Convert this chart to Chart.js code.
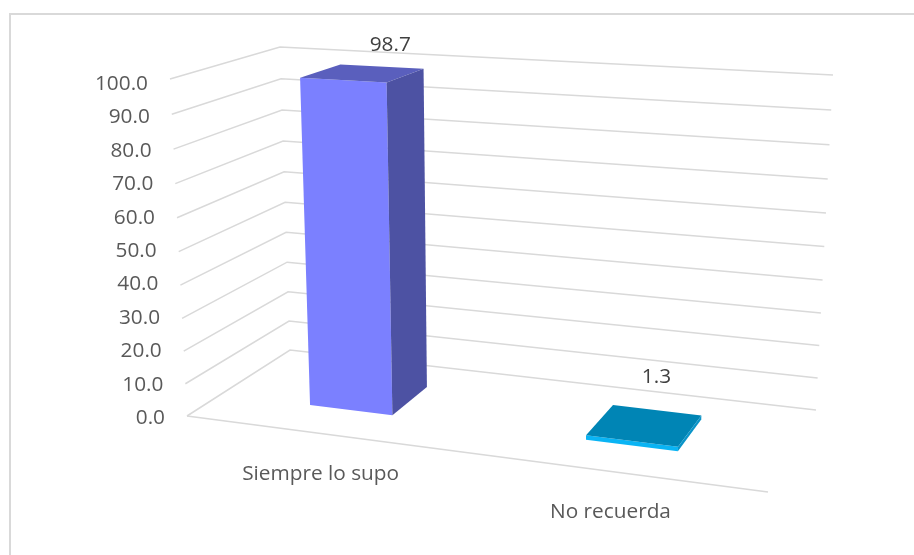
<!DOCTYPE html>
<html>
<head>
<meta charset="utf-8">
<title>Chart</title>
<script src="https://cdn.jsdelivr.net/npm/chart.js@4"></script>
<style>
  html, body { margin: 0; background: #fff; }
  canvas { display: block; }
</style>
</head>
<body>
<canvas id="myChart" width="914" height="555"></canvas>
<script>
const categories = ["Siempre lo supo", "No recuerda"];
const percentValues = [98.7, 1.3];

//face colours of each bar
const frontColors = ["#7b80ff", "#0ab4f4"];
const topColors = ["#5a5fbd", "#0085b5"];
const sideColors = ["#4d52a3", "#0a94c8"];

const FONT = '"Open Sans", sans-serif';
const GRID_COLOR = "#d9d9d9";
const TEXT_COLOR = "#595959";

//corners of the 3d box as they land on the picture
const BOX = {
  floor: { fl: [187, 416], fr: [768, 492], bl: [290, 350], br: [816, 410] },
  roof: { fl: [170, 79], fr: [781, 112], bl: [280, 47], br: [833, 75] },
};
const BAR_FRONT = 0.335; //depth where bars start
const BAR_BACK = 0.735; //depth where bars end

//foreshortening along one axis
function bend(t, k) {
  return (k * t) / (1 + (k - 1) * t);
}

function plane(c, u, w) {
  const out = [];
  for (let i = 0; i < 2; i++) {
    out.push(
      (1 - u) * (1 - w) * c.fl[i] + u * (1 - w) * c.fr[i] +
      (1 - u) * w * c.bl[i] + u * w * c.br[i]
    );
  }
  return out;
}

//flat chart pixel (x, y) + depth -> point on the 3d box
function project(chart, x, y, depth) {
  const area = chart.chartArea;
  const u = bend((x - area.left) / area.width, 0.896);
  const v = bend((area.bottom - y) / area.height, 0.952);
  const a = plane(BOX.floor, u, depth);
  const b = plane(BOX.roof, u, depth);
  return [a[0] + (b[0] - a[0]) * v, a[1] + (b[1] - a[1]) * v];
}

function polygon(ctx, pts, color) {
  ctx.beginPath();
  pts.forEach((p, i) => (i ? ctx.lineTo(p[0], p[1]) : ctx.moveTo(p[0], p[1])));
  ctx.closePath();
  ctx.fillStyle = color;
  ctx.fill();
}

function polyline(ctx, pts) {
  ctx.beginPath();
  pts.forEach((p, i) => (i ? ctx.lineTo(p[0], p[1]) : ctx.moveTo(p[0], p[1])));
  ctx.stroke();
}

const box3d = {
  id: "box3d",
  beforeDatasetsDraw(chart) {
    const { ctx, chartArea: area, scales } = chart;
    const yScale = scales.y;
    ctx.save();

    //chart frame
    ctx.strokeStyle = GRID_COLOR;
    ctx.lineWidth = 2;
    ctx.strokeRect(10, 14, 920, 560);

    //walls
    ctx.lineWidth = 1.5;
    yScale.ticks.forEach((tick) => {
      const y = yScale.getPixelForValue(tick.value);
      polyline(ctx, [
        project(chart, area.left, y, 0),
        project(chart, area.left, y, 1),
        project(chart, area.right, y, 1),
      ]);
    });
    polyline(ctx, [
      project(chart, area.left, area.bottom, 0),
      project(chart, area.right, area.bottom, 0),
    ]);

    //value axis labels follow the slanted edge
    ctx.fillStyle = TEXT_COLOR;
    ctx.font = "20.8px " + FONT;
    ctx.textAlign = "right";
    ctx.textBaseline = "middle";
    yScale.ticks.forEach((tick) => {
      const y = yScale.getPixelForValue(tick.value);
      ctx.fillText(tick.label, project(chart, area.left, y, 0)[0] - 22, y + 1);
    });
    ctx.restore();
  },
  //bars are drawn as boxes below, not as flat rectangles
  beforeDatasetDraw() {
    return false;
  },
  afterDatasetsDraw(chart) {
    const { ctx, chartArea: area } = chart;
    const bars = chart.getDatasetMeta(0).data;
    ctx.save();
    bars.forEach((bar, i) => {
      const l = bar.x - bar.width / 2;
      const r = bar.x + bar.width / 2;
      const p = (x, y, d) => project(chart, x, y, d);

      polygon(ctx, [p(l, bar.base, BAR_FRONT), p(r, bar.base, BAR_FRONT), p(r, bar.y, BAR_FRONT), p(l, bar.y, BAR_FRONT)], frontColors[i]);
      polygon(ctx, [p(l, bar.y, BAR_FRONT), p(r, bar.y, BAR_FRONT), p(r, bar.y, BAR_BACK), p(l, bar.y, BAR_BACK)], topColors[i]);
      polygon(ctx, [p(r, bar.base, BAR_FRONT), p(r, bar.base, BAR_BACK), p(r, bar.y, BAR_BACK), p(r, bar.y, BAR_FRONT)], sideColors[i]);

      //value label, anchored on the back wall
      const anchor = p(bar.x, bar.y, 1);
      ctx.fillStyle = "#404040";
      ctx.font = "20.8px " + FONT;
      ctx.textAlign = "center";
      ctx.textBaseline = "middle";
      ctx.fillText(percentValues[i].toFixed(1), anchor[0] - 17, anchor[1] - 13);

      //category label under the front edge
      const foot = p(bar.x, area.bottom, 0);
      ctx.fillStyle = TEXT_COLOR;
      ctx.font = "20.8px " + FONT;
      ctx.fillText(categories[i], foot[0], foot[1] + 41);
    });
    ctx.restore();
  },
};

const ctx = document.getElementById("myChart");
new Chart(ctx, {
  type: "bar",
  data: {
    labels: categories,
    datasets: [
      {
        label: "",
        data: percentValues,
        backgroundColor: frontColors,
        barPercentage: 0.31,
        categoryPercentage: 1,
      },
    ],
  },
  options: {
    responsive: false,
    animation: false,
    layout: { padding: { left: 170, right: 84, top: 83, bottom: 138 } },
    plugins: {
      legend: { display: false },
      tooltip: { enabled: false },
    },
    scales: {
      x: {
        display: false,
      },
      y: {
        min: 0,
        max: 100,
        grid: { display: false, color: GRID_COLOR },
        border: { display: false },
        ticks: {
          display: false,
          stepSize: 10,
          callback: (value) => value.toFixed(1),
        },
      },
    },
  },
  plugins: [box3d],
});
</script>
</body>
</html>
